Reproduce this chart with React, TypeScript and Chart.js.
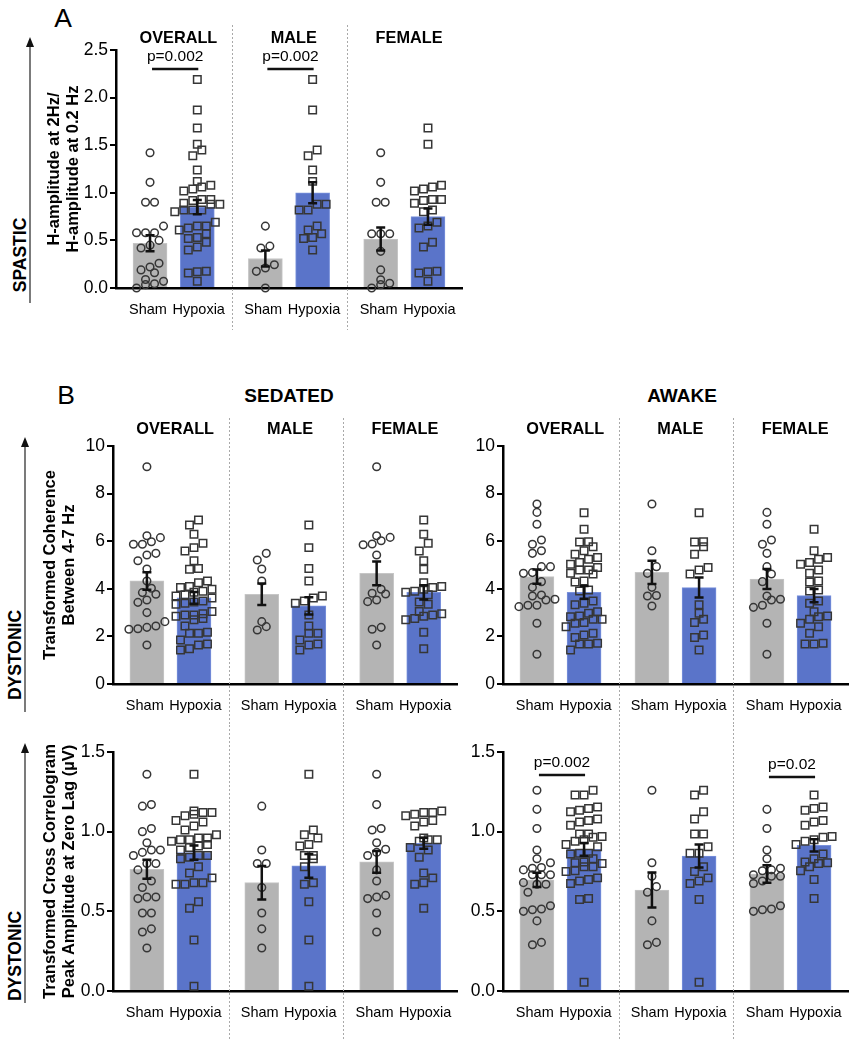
import React, { useEffect, useRef } from 'react';
import { Chart, registerables } from 'chart.js';

Chart.register(...registerables);

const FONT = '"Liberation Sans", Arial, Helvetica, sans-serif';

// ---------------- DATA ----------------
const groupNames = ['OVERALL', 'MALE', 'FEMALE'];
const conditionNames = ['Sham', 'Hypoxia'];

// Panel A: H-amplitude at 2Hz / H-amplitude at 0.2 Hz
const hShamOverall = [1.42, 1.11, 0.9, 0.9, 0.65, 0.58, 0.58, 0.58, 0.5, 0.45, 0.42, 0.26, 0.22, 0.19, 0.16, 0.09, 0.07, 0.045, 0.035, 0.0];
const hShamMale = [0.65, 0.44, 0.42, 0.245, 0.21, 0.175, 0.0];
const hShamFemale = [1.42, 1.11, 0.9, 0.9, 0.57, 0.57, 0.57, 0.385, 0.19, 0.087, 0.05, 0.035, 0.0];
const hHypOverall = [2.19, 1.87, 1.68, 1.51, 1.45, 1.39, 1.24, 1.12, 1.08, 1.06, 1.04, 1.02, 0.93, 0.93, 0.92, 0.89, 0.88, 0.88, 0.82, 0.82, 0.82, 0.8, 0.69, 0.65, 0.65, 0.63, 0.61, 0.57, 0.53, 0.52, 0.48, 0.43, 0.4, 0.175, 0.17, 0.157, 0.07];
const hHypMale = [2.19, 1.87, 1.45, 1.39, 1.24, 1.12, 0.88, 0.88, 0.82, 0.82, 0.65, 0.61, 0.57, 0.53, 0.52, 0.4];
const hHypFemale = [1.68, 1.51, 1.08, 1.06, 1.04, 1.02, 0.93, 0.93, 0.92, 0.89, 0.82, 0.8, 0.69, 0.65, 0.63, 0.48, 0.43, 0.175, 0.17, 0.157, 0.07];
const hShamMean = [0.47, 0.31, 0.515];
const hShamSem = [0.085, 0.085, 0.12];
const hHypMean = [0.85, 1.0, 0.75];
const hHypSem = [0.075, 0.11, 0.085];
const hTicks = [0, 0.5, 1, 1.5, 2, 2.5];
const hPValues = [
  { group: 0, text: 'p=0.002', level: 2.3 },
  { group: 1, text: 'p=0.002', level: 2.3 },
];

// Panel B: sedated, transformed coherence 4-7 Hz
const scShamOverall = [9.13, 6.23, 6.15, 5.98, 5.87, 5.87, 5.49, 5.42, 5.18, 4.83, 4.33, 4.02, 3.84, 3.77, 3.53, 3.43, 3.0, 2.62, 2.44, 2.38, 2.32, 2.3, 1.64];
const scShamMale = [5.49, 5.21, 4.83, 4.33, 2.62, 2.41, 2.27];
const scShamFemale = [9.13, 6.23, 6.16, 6.02, 5.88, 5.85, 5.42, 3.98, 3.81, 3.78, 3.53, 3.46, 2.38, 2.3, 1.64];
const scHypOverall = [6.89, 6.68, 6.29, 5.91, 5.73, 5.59, 5.18, 4.85, 4.82, 4.33, 4.25, 4.1, 4.05, 3.98, 3.9, 3.85, 3.75, 3.7, 3.61, 3.49, 3.45, 3.39, 3.35, 3.05, 2.95, 2.9, 2.9, 2.85, 2.75, 2.7, 2.44, 2.17, 2.13, 2.13, 1.85, 1.68, 1.64, 1.48, 1.43];
const scHypMale = [6.68, 5.73, 4.85, 4.33, 3.7, 3.61, 3.49, 3.39, 2.9, 2.44, 2.13, 2.13, 1.85, 1.68, 1.64, 1.43];
const scHypFemale = [6.89, 6.29, 5.91, 5.59, 5.18, 4.82, 4.25, 4.1, 4.05, 3.98, 3.9, 3.85, 3.75, 3.45, 3.35, 3.05, 2.95, 2.9, 2.85, 2.75, 2.7, 2.17, 1.48];
const scShamMean = [4.33, 3.77, 4.65];
const scShamSem = [0.37, 0.45, 0.5];
const scHypMean = [3.62, 3.28, 3.85];
const scHypSem = [0.25, 0.36, 0.3];

// Panel B: awake, transformed coherence 4-7 Hz
const acShamOverall = [7.56, 7.21, 6.71, 6.05, 5.87, 5.6, 5.49, 4.93, 4.93, 4.68, 4.65, 4.3, 4.06, 3.74, 3.7, 3.56, 3.53, 3.31, 3.31, 3.25, 2.55, 1.25];
const acShamMale = [7.56, 5.6, 4.93, 4.65, 4.06, 3.72, 3.7, 3.28];
const acShamFemale = [7.21, 6.71, 6.05, 5.87, 5.49, 4.93, 4.62, 4.3, 3.7, 3.56, 3.53, 3.31, 3.22, 2.55, 1.25];
const acHypOverall = [7.2, 6.5, 5.98, 5.97, 5.77, 5.6, 5.45, 5.31, 5.24, 5.11, 5.03, 4.9, 4.79, 4.79, 4.65, 4.62, 4.33, 4.29, 3.95, 3.91, 3.49, 3.39, 3.33, 3.04, 2.97, 2.86, 2.83, 2.72, 2.72, 2.58, 2.55, 2.41, 2.13, 2.06, 1.95, 1.71, 1.68, 1.68, 1.43];
const acHypMale = [7.2, 5.98, 5.97, 5.77, 5.45, 4.9, 4.79, 4.62, 3.33, 2.97, 2.72, 2.58, 2.06, 1.95, 1.43];
const acHypFemale = [6.5, 5.6, 5.31, 5.24, 5.11, 5.03, 4.79, 4.65, 4.33, 4.29, 3.95, 3.91, 3.49, 3.39, 3.04, 2.86, 2.83, 2.72, 2.55, 2.41, 2.13, 1.71, 1.68, 1.68];
const acShamMean = [4.51, 4.69, 4.41];
const acShamSem = [0.3, 0.49, 0.42];
const acHypMean = [3.85, 4.05, 3.71];
const acHypSem = [0.27, 0.42, 0.28];
const cohTicks = [0, 2, 4, 6, 8, 10];

// Panel B: sedated, cross correlogram peak amplitude
const sxShamOverall = [1.36, 1.17, 1.16, 1.02, 1.0, 0.93, 0.885, 0.885, 0.87, 0.85, 0.8, 0.8, 0.76, 0.69, 0.65, 0.59, 0.59, 0.58, 0.49, 0.49, 0.39, 0.37, 0.27];
const sxShamMale = [1.16, 0.885, 0.8, 0.8, 0.65, 0.49, 0.39, 0.27];
const sxShamFemale = [1.36, 1.17, 1.02, 1.01, 0.93, 0.89, 0.87, 0.85, 0.76, 0.69, 0.6, 0.59, 0.58, 0.49, 0.37];
const sxHypOverall = [1.36, 1.13, 1.12, 1.12, 1.11, 1.1, 1.07, 1.06, 1.035, 1.01, 0.98, 0.96, 0.96, 0.95, 0.95, 0.94, 0.92, 0.91, 0.9, 0.885, 0.85, 0.85, 0.84, 0.83, 0.78, 0.74, 0.71, 0.68, 0.68, 0.67, 0.67, 0.56, 0.52, 0.32, 0.03];
const sxHypMale = [1.36, 1.01, 0.98, 0.96, 0.92, 0.91, 0.85, 0.85, 0.83, 0.78, 0.68, 0.67, 0.56, 0.32, 0.03];
const sxHypFemale = [1.13, 1.12, 1.12, 1.11, 1.1, 1.07, 1.06, 1.035, 0.96, 0.95, 0.95, 0.94, 0.9, 0.885, 0.84, 0.74, 0.71, 0.68, 0.67, 0.52];
const sxShamMean = [0.764, 0.68, 0.81];
const sxShamSem = [0.06, 0.105, 0.068];
const sxHypMean = [0.868, 0.785, 0.927];
const sxHypSem = [0.045, 0.075, 0.035];

// Panel B: awake, cross correlogram peak amplitude
const axShamOverall = [1.26, 1.14, 1.02, 0.885, 0.83, 0.805, 0.775, 0.77, 0.76, 0.73, 0.73, 0.73, 0.68, 0.67, 0.67, 0.62, 0.535, 0.515, 0.51, 0.5, 0.44, 0.305, 0.29];
const axShamMale = [1.26, 0.805, 0.72, 0.655, 0.62, 0.44, 0.305, 0.29];
const axShamFemale = [1.14, 1.02, 0.885, 0.83, 0.77, 0.76, 0.755, 0.73, 0.72, 0.72, 0.69, 0.675, 0.535, 0.515, 0.51, 0.5];
const axHypOverall = [1.26, 1.23, 1.23, 1.155, 1.145, 1.135, 1.125, 1.08, 1.07, 1.06, 1.04, 0.985, 0.985, 0.97, 0.965, 0.95, 0.94, 0.92, 0.905, 0.865, 0.865, 0.86, 0.83, 0.81, 0.805, 0.8, 0.78, 0.78, 0.755, 0.75, 0.71, 0.7, 0.69, 0.675, 0.58, 0.575, 0.055];
const axHypMale = [1.26, 1.23, 1.125, 1.08, 0.985, 0.985, 0.905, 0.865, 0.865, 0.78, 0.75, 0.71, 0.69, 0.675, 0.575, 0.055];
const axHypFemale = [1.23, 1.155, 1.145, 1.135, 1.07, 1.06, 1.04, 0.97, 0.965, 0.95, 0.94, 0.92, 0.86, 0.83, 0.81, 0.805, 0.8, 0.78, 0.755, 0.7, 0.58];
const axShamMean = [0.697, 0.634, 0.734];
const axShamSem = [0.045, 0.11, 0.055];
const axHypMean = [0.889, 0.847, 0.914];
const axHypSem = [0.04, 0.072, 0.039];
const xcTicks = [0, 0.5, 1, 1.5];
const axPValues = [
  { group: 0, text: 'p=0.002', level: 1.356 },
  { group: 2, text: 'p=0.02', level: 1.343 },
];

// ---------------- LAYOUT / STYLE ----------------
const X_MIN = -0.72;
const X_MAX = 6.6;
const SHAM_X = [0, 2.44, 4.88];
const HYP_X = [1, 3.44, 5.88];
const SEP_X = [1.74, 4.16];
const LABEL_SHIFT = [-0.045, 0.03];
const SHAM_FILL = '#b4b4b4';
const SHAM_EDGE = '#c6c6c6';
const HYP_FILL = '#5a74c9';
const HYP_EDGE = '#7a92dc';
const MARK = '#363636';
const SWARM_GAP = 9;

type Box = { left: number; top: number; width: number; height: number };
type Area = { left: number; top: number; right: number; bottom: number };
type Bracket = { group: number; text: string; level: number };
type Spec = {
  canvas: Box;
  area: Area;
  yMax: number;
  yTicks: number[];
  decimals: number;
  yTitle?: string[];
  yTitleX?: number;
  groupTitleY?: number;
  sepTop: number;
  sepBottom: number;
  brackets: Bracket[];
  sham: number[][];
  hyp: number[][];
  shamMean: number[];
  shamSem: number[];
  hypMean: number[];
  hypSem: number[];
};

// Prism-like row spreading of points, computed from the values
function swarm(values: number[], pxPerY: number, pxPerX: number): number[] {
  const order = values.map((_, i) => i).sort((a, b) => values[a] - values[b]);
  const out = new Array(values.length).fill(0);
  let row: number[] = [];
  let rowStart = -Infinity;
  const flush = () => {
    const n = row.length;
    row.forEach((idx, j) => {
      out[idx] = ((j - (n - 1) / 2) * SWARM_GAP) / pxPerX;
    });
  };
  for (const i of order) {
    const py = values[i] * pxPerY;
    if (py - rowStart >= SWARM_GAP * 0.9) {
      flush();
      row = [];
      rowStart = py;
    }
    row.push(i);
  }
  flush();
  return out;
}

const decorPlugin = {
  id: 'decor',
  beforeDatasetsDraw(chart: any, _a: any, o: any) {
    const { ctx } = chart;
    const x = chart.scales.x;
    ctx.save();
    ctx.strokeStyle = '#a9a9a9';
    ctx.lineWidth = 1;
    ctx.setLineDash([2, 2]);
    for (const v of SEP_X) {
      const px = Math.round(x.getPixelForValue(v)) + 0.5;
      ctx.beginPath();
      ctx.moveTo(px, o.sepTop);
      ctx.lineTo(px, o.sepBottom);
      ctx.stroke();
    }
    ctx.restore();
  },
  afterDatasetsDraw(chart: any, _a: any, o: any) {
    const { ctx } = chart;
    const x = chart.scales.x;
    const y = chart.scales.y;
    ctx.save();
    ctx.strokeStyle = '#111';
    ctx.lineWidth = 2.5;
    chart.data.datasets.forEach((ds: any) => {
      if (!ds.sem) return;
      ds.data.forEach((p: any, i: number) => {
        const cx = x.getPixelForValue(p.x);
        const t = y.getPixelForValue(p.y + ds.sem[i]);
        const b = y.getPixelForValue(p.y - ds.sem[i]);
        ctx.beginPath();
        ctx.moveTo(cx, t);
        ctx.lineTo(cx, b);
        ctx.moveTo(cx - 4.5, t);
        ctx.lineTo(cx + 4.5, t);
        ctx.moveTo(cx - 4.5, b);
        ctx.lineTo(cx + 4.5, b);
        ctx.stroke();
      });
    });
    ctx.fillStyle = '#000';
    ctx.textAlign = 'center';
    ctx.textBaseline = 'middle';
    ctx.font = `15.5px ${FONT}`;
    for (const br of o.brackets as Bracket[]) {
      const x1 = x.getPixelForValue(SHAM_X[br.group]) + 2;
      const x2 = x.getPixelForValue(HYP_X[br.group]) + 1;
      const ly = y.getPixelForValue(br.level);
      ctx.lineWidth = 2.5;
      ctx.beginPath();
      ctx.moveTo(x1, ly);
      ctx.lineTo(x2, ly);
      ctx.stroke();
      ctx.fillText(br.text, (x1 + x2) / 2, ly - 12.5);
    }
    if (o.titleY != null) {
      ctx.font = `bold 16.3px ${FONT}`;
      groupNames.forEach((g, gi) => {
        const cx = x.getPixelForValue((SHAM_X[gi] + HYP_X[gi]) / 2 + 0.1);
        ctx.fillText(g, cx, o.titleY);
      });
    }
    ctx.restore();
  },
};

function buildConfig(s: Spec): any {
  const W = s.area.right - s.area.left;
  const H = s.area.bottom - s.area.top;
  const pxX = W / (X_MAX - X_MIN);
  const pxY = H / s.yMax;
  const scatter = (vals: number[][], pos: number[]) =>
    vals.flatMap((g, gi) => {
      const off = swarm(g, pxY, pxX);
      return g.map((v, i) => ({ x: pos[gi] + off[i], y: v }));
    });
  const barData: { x: number; y: number }[] = [];
  const barSem: number[] = [];
  const barFill: string[] = [];
  const barEdge: string[] = [];
  for (let gi = 0; gi < 3; gi++) {
    barData.push({ x: SHAM_X[gi], y: s.shamMean[gi] });
    barSem.push(s.shamSem[gi]);
    barFill.push(SHAM_FILL);
    barEdge.push(SHAM_EDGE);
    barData.push({ x: HYP_X[gi], y: s.hypMean[gi] });
    barSem.push(s.hypSem[gi]);
    barFill.push(HYP_FILL);
    barEdge.push(HYP_EDGE);
  }
  const tickX = [0, 1, 2].flatMap((gi) => [SHAM_X[gi] + LABEL_SHIFT[0], HYP_X[gi] + LABEL_SHIFT[1]]);
  const titleLH = 16.5 * 1.2;
  return {
    type: 'bar',
    data: {
      datasets: [
        {
          type: 'scatter',
          label: conditionNames[0],
          data: scatter(s.sham, SHAM_X),
          pointStyle: 'circle',
          pointRadius: 3.8,
          pointBorderWidth: 1.5,
          pointBorderColor: MARK,
          borderColor: MARK,
          pointBackgroundColor: 'rgba(0,0,0,0)',
          backgroundColor: 'rgba(0,0,0,0)',
          showLine: false,
          clip: false,
          order: 1,
        },
        {
          type: 'scatter',
          label: conditionNames[1],
          data: scatter(s.hyp, HYP_X),
          pointStyle: 'rect',
          pointRadius: 5.3,
          pointBorderWidth: 1.5,
          pointBorderColor: MARK,
          borderColor: MARK,
          pointBackgroundColor: 'rgba(0,0,0,0)',
          backgroundColor: 'rgba(0,0,0,0)',
          showLine: false,
          clip: false,
          order: 1,
        },
        {
          type: 'bar',
          label: 'mean',
          data: barData,
          sem: barSem,
          backgroundColor: barFill,
          borderColor: barEdge,
          borderWidth: 1,
          barThickness: 34,
          order: 2,
        },
      ],
    },
    options: {
      responsive: false,
      maintainAspectRatio: false,
      animation: false,
      devicePixelRatio: 1,
      events: [],
      layout: {
        autoPadding: false,
        padding: {
          left: 0,
          top: s.area.top - s.canvas.top,
          right: s.canvas.left + s.canvas.width - s.area.right,
          bottom: 0,
        },
      },
      plugins: {
        legend: { display: false },
        tooltip: { enabled: false },
        decor: {
          sepTop: s.sepTop - s.canvas.top,
          sepBottom: s.sepBottom - s.canvas.top,
          brackets: s.brackets,
          titleY: s.groupTitleY != null ? s.groupTitleY - s.canvas.top : null,
        },
      },
      scales: {
        x: {
          type: 'linear',
          min: X_MIN,
          max: X_MAX,
          offset: false,
          bounds: 'data',
          grid: { display: false, drawTicks: false },
          border: { display: true, color: '#000', width: 2.5 },
          ticks: {
            autoSkip: false,
            maxRotation: 0,
            minRotation: 0,
            padding: 13,
            color: '#000',
            font: { family: FONT, size: 14.5 },
            callback: (_v: any, i: number) => conditionNames[i % 2],
          },
          afterBuildTicks: (sc: any) => {
            sc.ticks = tickX.map((v) => ({ value: v }));
          },
          afterFit: (sc: any) => {
            sc.height = s.canvas.top + s.canvas.height - s.area.bottom;
          },
        },
        y: {
          type: 'linear',
          min: 0,
          max: s.yMax,
          grid: {
            display: true,
            drawOnChartArea: false,
            drawTicks: true,
            tickLength: 6,
            color: '#000',
            lineWidth: 2,
          },
          border: { display: true, color: '#000', width: 2.5 },
          ticks: {
            padding: 2,
            color: '#000',
            font: { family: FONT, size: 17.5 },
            callback: (v: any) => Number(v).toFixed(s.decimals),
          },
          afterBuildTicks: (sc: any) => {
            sc.ticks = s.yTicks.map((v) => ({ value: v }));
          },
          title: {
            display: !!s.yTitle,
            text: s.yTitle || '',
            color: '#000',
            font: { family: FONT, size: 16.5, weight: 'bold', lineHeight: 1.2 },
            padding: { top: (s.yTitleX || 0) - s.canvas.left - titleLH / 2, bottom: 0 },
          },
          afterFit: (sc: any) => {
            sc.width = s.area.left - s.canvas.left;
          },
        },
      },
    },
    plugins: [decorPlugin],
  };
}

const specs: Spec[] = [
  {
    canvas: { left: 0, top: 0, width: 470, height: 335 },
    area: { left: 116, top: 50, right: 462, bottom: 288 },
    yMax: 2.5,
    yTicks: hTicks,
    decimals: 1,
    yTitle: ['H-amplitude at 2Hz/', 'H-amplitude at 0.2 Hz'],
    yTitleX: 54,
    groupTitleY: 39,
    sepTop: 25,
    sepBottom: 330,
    brackets: hPValues,
    sham: [hShamOverall, hShamMale, hShamFemale],
    hyp: [hHypOverall, hHypMale, hHypFemale],
    shamMean: hShamMean,
    shamSem: hShamSem,
    hypMean: hHypMean,
    hypSem: hHypSem,
  },
  {
    canvas: { left: 0, top: 405, width: 465, height: 320 },
    area: { left: 113, top: 446, right: 458, bottom: 684 },
    yMax: 10,
    yTicks: cohTicks,
    decimals: 0,
    yTitle: ['Transformed Coherence', 'Between 4-7 Hz'],
    yTitleX: 50,
    groupTitleY: 430,
    sepTop: 418,
    sepBottom: 725,
    brackets: [],
    sham: [scShamOverall, scShamMale, scShamFemale],
    hyp: [scHypOverall, scHypMale, scHypFemale],
    shamMean: scShamMean,
    shamSem: scShamSem,
    hypMean: scHypMean,
    hypSem: scHypSem,
  },
  {
    canvas: { left: 420, top: 405, width: 437, height: 320 },
    area: { left: 503, top: 446, right: 848, bottom: 684 },
    yMax: 10,
    yTicks: cohTicks,
    decimals: 0,
    groupTitleY: 430,
    sepTop: 418,
    sepBottom: 725,
    brackets: [],
    sham: [acShamOverall, acShamMale, acShamFemale],
    hyp: [acHypOverall, acHypMale, acHypFemale],
    shamMean: acShamMean,
    shamSem: acShamSem,
    hypMean: acHypMean,
    hypSem: acHypSem,
  },
  {
    canvas: { left: 0, top: 725, width: 465, height: 325 },
    area: { left: 113, top: 752, right: 458, bottom: 991 },
    yMax: 1.5,
    yTicks: xcTicks,
    decimals: 1,
    yTitle: ['Transformed Cross Correlogram', 'Peak Amplitude at Zero Lag (µV)'],
    yTitleX: 50,
    sepTop: 725,
    sepBottom: 1040,
    brackets: [],
    sham: [sxShamOverall, sxShamMale, sxShamFemale],
    hyp: [sxHypOverall, sxHypMale, sxHypFemale],
    shamMean: sxShamMean,
    shamSem: sxShamSem,
    hypMean: sxHypMean,
    hypSem: sxHypSem,
  },
  {
    canvas: { left: 420, top: 725, width: 437, height: 325 },
    area: { left: 503, top: 752, right: 848, bottom: 991 },
    yMax: 1.5,
    yTicks: xcTicks,
    decimals: 1,
    sepTop: 725,
    sepBottom: 1040,
    brackets: axPValues,
    sham: [axShamOverall, axShamMale, axShamFemale],
    hyp: [axHypOverall, axHypMale, axHypFemale],
    shamMean: axShamMean,
    shamSem: axShamSem,
    hypMean: axHypMean,
    hypSem: axHypSem,
  },
];

function PanelChart({ spec }: { spec: Spec }) {
  const ref = useRef<HTMLCanvasElement | null>(null);
  useEffect(() => {
    if (!ref.current) return;
    const chart = new Chart(ref.current, buildConfig(spec));
    return () => chart.destroy();
  }, [spec]);
  const c = spec.canvas;
  return (
    <canvas
      ref={ref}
      width={c.width}
      height={c.height}
      style={{ position: 'absolute', left: c.left, top: c.top, width: c.width, height: c.height }}
    />
  );
}

function Txt(props: { x: number; y: number; size: number; bold?: boolean; rotate?: boolean; children: React.ReactNode }) {
  return (
    <div
      style={{
        position: 'absolute',
        left: props.x,
        top: props.y,
        transform: `translate(-50%, -50%)${props.rotate ? ' rotate(-90deg)' : ''}`,
        fontFamily: FONT,
        fontSize: props.size,
        fontWeight: props.bold ? 700 : 400,
        lineHeight: 1,
        whiteSpace: 'nowrap',
        color: '#000',
      }}
    >
      {props.children}
    </div>
  );
}

function Arrow({ x, top, bottom }: { x: number; top: number; bottom: number }) {
  const h = bottom - top;
  return (
    <svg style={{ position: 'absolute', left: x - 6, top, overflow: 'visible' }} width={12} height={h}>
      <line x1={6} y1={8} x2={6} y2={h} stroke="#222" strokeWidth={1.2} />
      <polygon points="6,0 2,10 10,10" fill="#111" />
    </svg>
  );
}

export default function App() {
  return (
    <div
      style={{
        position: 'absolute',
        left: 0,
        top: 0,
        width: 857,
        height: 1050,
        background: '#fff',
        overflow: 'hidden',
      }}
    >
      <Txt x={63} y={17.5} size={26.5}>A</Txt>
      <Txt x={66} y={395} size={26.5}>B</Txt>
      <Txt x={289} y={395} size={19} bold>SEDATED</Txt>
      <Txt x={682} y={395} size={19} bold>AWAKE</Txt>
      <Txt x={20.5} y={255} size={17.5} bold rotate>SPASTIC</Txt>
      <Txt x={15.5} y={655} size={17.5} bold rotate>DYSTONIC</Txt>
      <Txt x={15.5} y={955.5} size={17.5} bold rotate>DYSTONIC</Txt>
      <Arrow x={30} top={37} bottom={303} />
      <Arrow x={25} top={437} bottom={712} />
      <Arrow x={25} top={743} bottom={1003} />
      {specs.map((s, i) => (
        <PanelChart key={i} spec={s} />
      ))}
    </div>
  );
}
